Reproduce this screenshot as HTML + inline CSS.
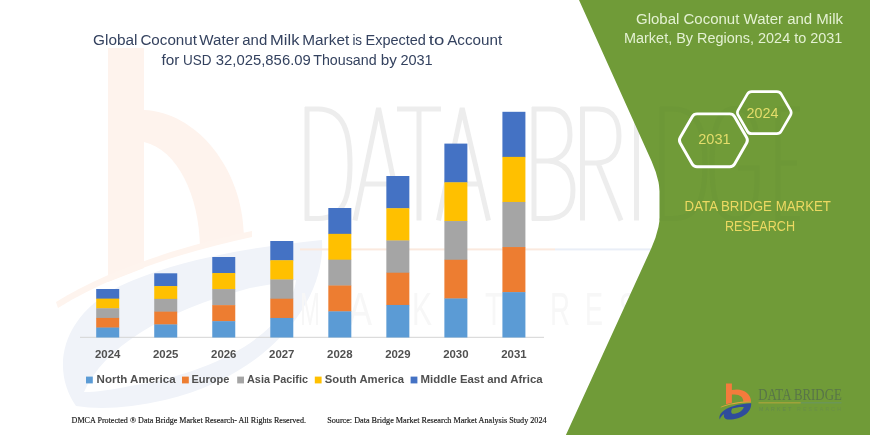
<!DOCTYPE html>
<html><head><meta charset="utf-8"><title>Global Coconut Water and Milk Market</title>
<style>
html,body{margin:0;padding:0;background:#fff;}
body{width:870px;height:435px;overflow:hidden;font-family:"Liberation Sans",sans-serif;}
svg{display:block;will-change:transform;}
text{font-family:"Liberation Sans",sans-serif;}
.serif{font-family:"Liberation Serif",serif;}
</style></head>
<body>
<svg width="870" height="435" viewBox="0 0 870 435">
<rect width="870" height="435" fill="#ffffff"/>
<!-- watermark -->
<g id="wm">
  <path d="M108 48 H144 V110 C196 112 243 168 244 236 L200 246 C199 196 178 150 144 142 V268 L108 282 Z" fill="#fef3ed"/>
  <path d="M56 302 C110 268 190 244 252 231 L252 237 C190 250 112 274 58 308 Z" fill="#fef4ee"/>
  <path d="M76 406 C52 372 58 318 120 286 C180 258 260 246 322 240 C326 300 270 375 165 400 C130 408 100 410 76 406 Z M84 392 C104 348 160 312 250 288 L296 280 C290 330 220 372 130 386 C110 390 96 392 84 392 Z" fill="#f0f3f9" fill-rule="evenodd"/>
  <g fill="none" stroke="#ededed" stroke-width="5" stroke-linejoin="miter">
    <path d="M307 107 V220.5 M305 109 H318 C345 109 350 135 350 164 C350 195 345 218.5 318 218.5 H305"/>
    <path d="M355 220.5 L378.6 108 L402 220.5 M363 184 H394"/>
    <path d="M397 109 H441 M419 109 V220.5"/>
    <path d="M438.5 220.5 L462.2 108 L488.5 220.5 M447 184 H478"/>
    <path d="M534 107 V220.5 M532 109 H550 C566 109 570 122 570 135 C570 150 562 160 548 161 H534 M548 161 C566 162 573 175 573 190 C573 208 565 218.5 548 218.5 H532"/>
    <path d="M582.5 107 V220.5 M580.5 109 H598 C614 109 619 122 619 136 C619 152 612 163 596 163 H582.5 M598 163 L621 220.5"/>
    <path d="M636.5 107 V220.5"/>
  </g>
  <rect x="300" y="248.4" width="255" height="2" fill="#fbe9de"/>
  <rect x="555" y="248.4" width="100" height="2" fill="#e9eef7"/>
  <g font-size="46" fill="#f7f7f7" text-anchor="middle">
    <text x="310" y="325" textLength="20" lengthAdjust="spacingAndGlyphs">M</text>
    <text x="360" y="325" textLength="24" lengthAdjust="spacingAndGlyphs">A</text>
    <text x="422" y="325" textLength="20" lengthAdjust="spacingAndGlyphs">K</text>
    <text x="458" y="325" textLength="18" lengthAdjust="spacingAndGlyphs">E</text>
    <text x="494" y="325" textLength="18" lengthAdjust="spacingAndGlyphs">T</text>
    <text x="560" y="325" textLength="20" lengthAdjust="spacingAndGlyphs">R</text>
    <text x="594" y="325" textLength="18" lengthAdjust="spacingAndGlyphs">E</text>
    <text x="628" y="325" textLength="18" lengthAdjust="spacingAndGlyphs">S</text>
  </g>
</g>
<!-- green panel -->
<path d="M579 0 L651.6 161.3 A105 105 0 0 1 651.3 248.3 L565.9 435 L870 435 L870 0 Z" fill="#709b38"/>
<g fill="none" stroke="#6d9837" stroke-width="5">
  <path d="M662 107 V220.5 M660 109 H673 C700 109 705 135 705 164 C705 195 700 218.5 673 218.5 H660"/>
  <path d="M756 130 C752 112 742 108.5 735 108.5 C716 108.5 712 135 712 164 C712 195 716 219 735 219 C750 219 757 208 757 180 V168 H738"/>
  <path d="M778 107 V220.5 M776 109 H800 M778 163 H797 M776 218.5 H800"/>
</g>
<!-- axis -->
<rect x="80" y="336.8" width="464" height="1" fill="#d4d4d4"/>
<!-- bars -->
<rect x="96.20" y="289.00" width="23.0" height="9.94" fill="#4472c4"/>
<rect x="96.20" y="298.64" width="23.0" height="9.94" fill="#ffc000"/>
<rect x="96.20" y="308.28" width="23.0" height="9.94" fill="#a5a5a5"/>
<rect x="96.20" y="317.92" width="23.0" height="9.94" fill="#ed7d31"/>
<rect x="96.20" y="327.56" width="23.0" height="9.94" fill="#5b9bd5"/>
<rect x="154.23" y="273.30" width="23.0" height="13.08" fill="#4472c4"/>
<rect x="154.23" y="286.08" width="23.0" height="13.08" fill="#ffc000"/>
<rect x="154.23" y="298.86" width="23.0" height="13.08" fill="#a5a5a5"/>
<rect x="154.23" y="311.64" width="23.0" height="13.08" fill="#ed7d31"/>
<rect x="154.23" y="324.42" width="23.0" height="13.08" fill="#5b9bd5"/>
<rect x="212.26" y="257.00" width="23.0" height="16.34" fill="#4472c4"/>
<rect x="212.26" y="273.04" width="23.0" height="16.34" fill="#ffc000"/>
<rect x="212.26" y="289.08" width="23.0" height="16.34" fill="#a5a5a5"/>
<rect x="212.26" y="305.12" width="23.0" height="16.34" fill="#ed7d31"/>
<rect x="212.26" y="321.16" width="23.0" height="16.34" fill="#5b9bd5"/>
<rect x="270.29" y="241.00" width="23.0" height="19.54" fill="#4472c4"/>
<rect x="270.29" y="260.24" width="23.0" height="19.54" fill="#ffc000"/>
<rect x="270.29" y="279.48" width="23.0" height="19.54" fill="#a5a5a5"/>
<rect x="270.29" y="298.72" width="23.0" height="19.54" fill="#ed7d31"/>
<rect x="270.29" y="317.96" width="23.0" height="19.54" fill="#5b9bd5"/>
<rect x="328.32" y="208.00" width="23.0" height="26.14" fill="#4472c4"/>
<rect x="328.32" y="233.84" width="23.0" height="26.14" fill="#ffc000"/>
<rect x="328.32" y="259.68" width="23.0" height="26.14" fill="#a5a5a5"/>
<rect x="328.32" y="285.52" width="23.0" height="26.14" fill="#ed7d31"/>
<rect x="328.32" y="311.36" width="23.0" height="26.14" fill="#5b9bd5"/>
<rect x="386.35" y="176.00" width="23.0" height="32.54" fill="#4472c4"/>
<rect x="386.35" y="208.24" width="23.0" height="32.54" fill="#ffc000"/>
<rect x="386.35" y="240.48" width="23.0" height="32.54" fill="#a5a5a5"/>
<rect x="386.35" y="272.72" width="23.0" height="32.54" fill="#ed7d31"/>
<rect x="386.35" y="304.96" width="23.0" height="32.54" fill="#5b9bd5"/>
<rect x="444.38" y="143.60" width="23.0" height="39.02" fill="#4472c4"/>
<rect x="444.38" y="182.32" width="23.0" height="39.02" fill="#ffc000"/>
<rect x="444.38" y="221.04" width="23.0" height="39.02" fill="#a5a5a5"/>
<rect x="444.38" y="259.76" width="23.0" height="39.02" fill="#ed7d31"/>
<rect x="444.38" y="298.48" width="23.0" height="39.02" fill="#5b9bd5"/>
<rect x="502.41" y="111.80" width="23.0" height="45.38" fill="#4472c4"/>
<rect x="502.41" y="156.88" width="23.0" height="45.38" fill="#ffc000"/>
<rect x="502.41" y="201.96" width="23.0" height="45.38" fill="#a5a5a5"/>
<rect x="502.41" y="247.04" width="23.0" height="45.38" fill="#ed7d31"/>
<rect x="502.41" y="292.12" width="23.0" height="45.38" fill="#5b9bd5"/>
<!-- year labels -->
<g font-size="11" font-weight="bold" fill="#505050">
<text x="107.70" y="358.4" text-anchor="middle" textLength="25.4" lengthAdjust="spacingAndGlyphs">2024</text>
<text x="165.73" y="358.4" text-anchor="middle" textLength="25.4" lengthAdjust="spacingAndGlyphs">2025</text>
<text x="223.76" y="358.4" text-anchor="middle" textLength="25.4" lengthAdjust="spacingAndGlyphs">2026</text>
<text x="281.79" y="358.4" text-anchor="middle" textLength="25.4" lengthAdjust="spacingAndGlyphs">2027</text>
<text x="339.82" y="358.4" text-anchor="middle" textLength="25.4" lengthAdjust="spacingAndGlyphs">2028</text>
<text x="397.85" y="358.4" text-anchor="middle" textLength="25.4" lengthAdjust="spacingAndGlyphs">2029</text>
<text x="455.88" y="358.4" text-anchor="middle" textLength="25.4" lengthAdjust="spacingAndGlyphs">2030</text>
<text x="513.91" y="358.4" text-anchor="middle" textLength="25.4" lengthAdjust="spacingAndGlyphs">2031</text>
</g>
<!-- legend -->
<g font-size="11" font-weight="bold" fill="#505050">
<rect x="86" y="376.6" width="6.8" height="6.8" fill="#5b9bd5"/>
<text x="96.6" y="382.7" textLength="79" lengthAdjust="spacingAndGlyphs">North America</text>
<rect x="182" y="376.6" width="6.8" height="6.8" fill="#ed7d31"/>
<text x="191.4" y="382.7" textLength="38" lengthAdjust="spacingAndGlyphs">Europe</text>
<rect x="237.2" y="376.6" width="6.8" height="6.8" fill="#a5a5a5"/>
<text x="247" y="382.7" textLength="61" lengthAdjust="spacingAndGlyphs">Asia Pacific</text>
<rect x="314.8" y="376.6" width="6.8" height="6.8" fill="#ffc000"/>
<text x="324.8" y="382.7" textLength="79.2" lengthAdjust="spacingAndGlyphs">South America</text>
<rect x="410.6" y="376.6" width="6.8" height="6.8" fill="#4472c4"/>
<text x="420.6" y="382.7" textLength="122" lengthAdjust="spacingAndGlyphs">Middle East and Africa</text>
</g>
<!-- title -->
<g font-size="15.3" fill="#34425f">
<text x="93.1" y="45.1" textLength="44.4" lengthAdjust="spacingAndGlyphs">Global</text>
<text x="140.4" y="45.1" textLength="56.6" lengthAdjust="spacingAndGlyphs">Coconut</text>
<text x="199.3" y="45.1" textLength="39.9" lengthAdjust="spacingAndGlyphs">Water</text>
<text x="242.3" y="45.1" textLength="24.9" lengthAdjust="spacingAndGlyphs">and</text>
<text x="270.1" y="45.1" textLength="29.3" lengthAdjust="spacingAndGlyphs">Milk</text>
<text x="302.3" y="45.1" textLength="46.9" lengthAdjust="spacingAndGlyphs">Market</text>
<text x="352.4" y="45.1" textLength="9.7" lengthAdjust="spacingAndGlyphs">is</text>
<text x="365.5" y="45.1" textLength="60.4" lengthAdjust="spacingAndGlyphs">Expected</text>
<text x="428.8" y="45.1" textLength="15.5" lengthAdjust="spacingAndGlyphs">to</text>
<text x="447.2" y="45.1" textLength="55.0" lengthAdjust="spacingAndGlyphs">Account</text>
<text x="161.4" y="65.0" textLength="17.9" lengthAdjust="spacingAndGlyphs">for</text>
<text x="182.9" y="65.0" textLength="28.5" lengthAdjust="spacingAndGlyphs">USD</text>
<text x="215.8" y="65.0" textLength="95.0" lengthAdjust="spacingAndGlyphs">32,025,856.09</text>
<text x="313.2" y="65.0" textLength="63.4" lengthAdjust="spacingAndGlyphs">Thousand</text>
<text x="380.7" y="65.0" textLength="16.1" lengthAdjust="spacingAndGlyphs">by</text>
<text x="400.4" y="65.0" textLength="32.3" lengthAdjust="spacingAndGlyphs">2031</text>
</g>
<!-- right title -->
<g font-size="15.3" fill="#e4f1d3">
<text x="636" y="23.8" textLength="207" lengthAdjust="spacingAndGlyphs">Global Coconut Water and Milk</text>
<text x="624" y="42.8" textLength="218.4" lengthAdjust="spacingAndGlyphs">Market, By Regions, 2024 to 2031</text>
</g>
<!-- hexagons -->
<g fill="none" stroke="#ffffff" stroke-linejoin="round">
<path d="M680.18 143.04 A5.5 5.5 0 0 1 680.18 137.56 L692.21 116.66 A5.5 5.5 0 0 1 696.98 113.90 L729.82 113.90 A5.5 5.5 0 0 1 734.59 116.66 L746.62 137.56 A5.5 5.5 0 0 1 746.62 143.04 L734.59 163.94 A5.5 5.5 0 0 1 729.82 166.70 L696.98 166.70 A5.5 5.5 0 0 1 692.21 163.94 Z" stroke-width="2.9"/>
<path d="M738.14 115.20 A5 5 0 0 1 738.14 110.20 L747.36 94.20 A5 5 0 0 1 751.69 91.70 L776.91 91.70 A5 5 0 0 1 781.24 94.20 L790.46 110.20 A5 5 0 0 1 790.46 115.20 L781.24 131.20 A5 5 0 0 1 776.91 133.70 L751.69 133.70 A5 5 0 0 1 747.36 131.20 Z" stroke-width="2.7"/>
</g>
<g font-size="15.5" fill="#e4dd6b">
<text x="698.2" y="144.0" textLength="32.4" lengthAdjust="spacingAndGlyphs">2031</text>
<text x="746.6" y="118.4" textLength="32" lengthAdjust="spacingAndGlyphs">2024</text>
</g>
<g font-size="15" fill="#ecd962">
<text x="684.6" y="211.2" textLength="146.4" lengthAdjust="spacingAndGlyphs">DATA BRIDGE MARKET</text>
<text x="725" y="230.7" textLength="70" lengthAdjust="spacingAndGlyphs">RESEARCH</text>
</g>
<!-- footer -->
<g class="serif" font-size="8" fill="#151515" stroke="#151515" stroke-width="0.15">
<text class="serif" x="71.6" y="423" textLength="234.4" lengthAdjust="spacingAndGlyphs">DMCA Protected ® Data Bridge Market Research-  All Rights Reserved.</text>
<text class="serif" x="327.2" y="423" textLength="219.4" lengthAdjust="spacingAndGlyphs">Source: Data Bridge Market Research  Market Analysis Study 2024</text>
</g>
<!-- logo -->
<g id="logo">
  <path d="M726 383.6 H731.9 V390 C742.5 387.6 751 393 751 401.6 L743.4 402 C743.6 396.6 739 393.6 731.9 394.6 V402.8 L726 404.2 Z" fill="#f47b3c"/>
  <path d="M720.6 407 C728 403 740 401.2 751 401.4 L751 402.6 C740 402.6 728 404.6 720.9 407.6 Z" fill="#e3a23c"/>
  <path d="M719.8 419.4 C717.4 411.6 730 404.2 751.2 403.2 C751.6 412.4 742 419.4 729 419.6 C725.2 419.6 723 417.4 724.2 414 C722 415.4 720.4 417.2 719.8 419.4 Z M732.2 408.6 C731 410.6 730.8 412.8 732.2 413.8 C737 414.2 742.6 411.4 743.8 407 C740 406.8 735.6 407.4 732.2 408.6 Z" fill="#2f4c9c" fill-rule="evenodd"/>
  <text class="serif" x="758.2" y="400.2" font-size="16.6" fill="#587548" textLength="83.6" lengthAdjust="spacingAndGlyphs">DATA BRIDGE</text>
  <rect x="758.5" y="402.4" width="42.3" height="0.9" fill="#bfa83c"/>
  <rect x="800.8" y="402.4" width="40.7" height="0.9" fill="#69946a"/>
  <text x="759" y="410.9" font-size="5.2" fill="#648a4c" textLength="82" lengthAdjust="spacing">MARKET <tspan fill="#6a9047">RESEARCH</tspan></text>
</g>
</svg>
</body></html>
